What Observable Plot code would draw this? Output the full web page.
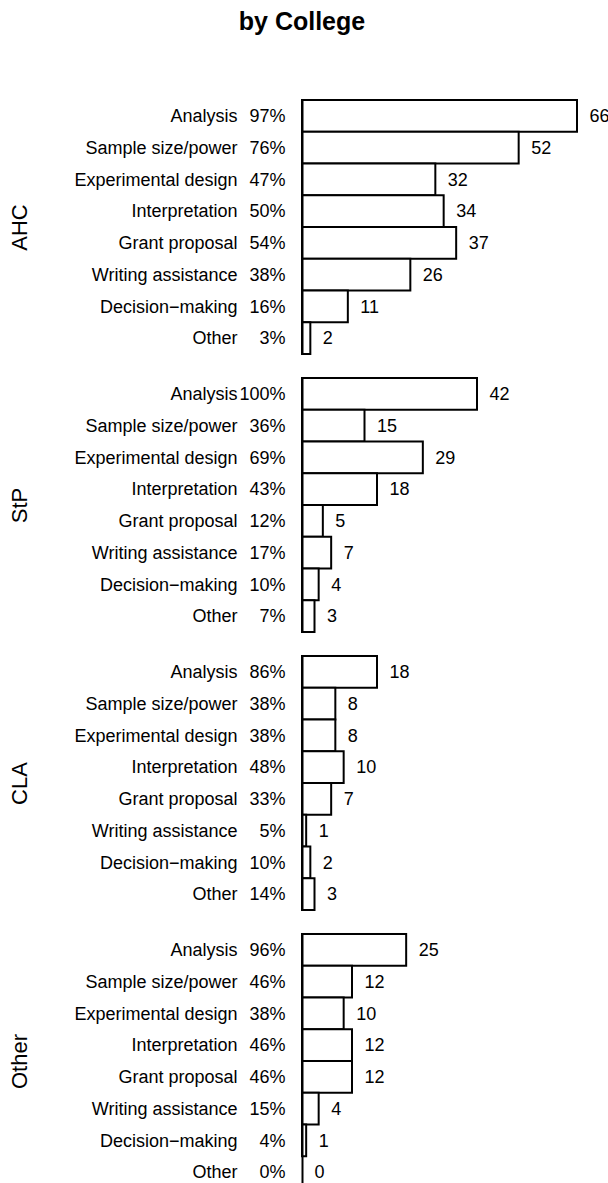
<!DOCTYPE html>
<html>
<head>
<meta charset="utf-8">
<script src="https://cdn.jsdelivr.net/npm/d3@7"></script>
<script src="https://cdn.jsdelivr.net/npm/@observablehq/plot@0.6"></script>
<style>
  html, body { margin: 0; padding: 0; background: #fff; overflow: hidden; }
  #title { height: 40px; width: 608px; text-align: center; font-family: "Liberation Sans", Arial, sans-serif; font-weight: bold; font-size: 25px; line-height: 42px; color: #000; padding-right: 4px; box-sizing: border-box; }
  #chart svg { display: block; }
</style>
</head>
<body>
<div id="title">by College</div>
<div id="chart"></div>
<script>
const colleges = ["AHC", "StP", "CLA", "Other"];
const categories = ["Analysis", "Sample size/power", "Experimental design", "Interpretation", "Grant proposal", "Writing assistance", "Decision\u2212making", "Other"];
const countsAHC = [66, 52, 32, 34, 37, 26, 11, 2];
const pctAHC = [97, 76, 47, 50, 54, 38, 16, 3];
const countsStP = [42, 15, 29, 18, 5, 7, 4, 3];
const pctStP = [100, 36, 69, 43, 12, 17, 10, 7];
const countsCLA = [18, 8, 8, 10, 7, 1, 2, 3];
const pctCLA = [86, 38, 38, 48, 33, 5, 10, 14];
const countsOther = [25, 12, 10, 12, 12, 4, 1, 0];
const pctOther = [96, 46, 38, 46, 46, 15, 4, 0];

const counts = {AHC: countsAHC, StP: countsStP, CLA: countsCLA, Other: countsOther};
const pcts = {AHC: pctAHC, StP: pctStP, CLA: pctCLA, Other: pctOther};
const data = colleges.flatMap(c => categories.map((cat, i) => ({college: c, category: cat, count: counts[c][i], pct: pcts[c][i]})));

const chart = Plot.plot({
  width: 608,
  height: 1148,
  marginTop: 60,
  marginBottom: 0,
  marginLeft: 302,
  marginRight: 6,
  style: {fontFamily: "'Liberation Sans', Arial, sans-serif", fontSize: "18px", color: "#000", background: "#fff"},
  x: {domain: [0, 72], axis: null},
  y: {domain: categories, padding: 0, round: false, tickSize: 0, tickPadding: 65, label: null},
  fy: {domain: colleges, paddingInner: 0.0863, paddingOuter: 0, round: false, axis: null, label: null},
  marks: [
    Plot.barX(data, {x: "count", y: "category", fy: "college", fill: "white", stroke: "black", strokeWidth: 2, inset: 0}),
    Plot.tickX(data, {x: 0, y: "category", fy: "college", stroke: "black", strokeWidth: 2}),
    Plot.text(data, {x: "count", y: "category", fy: "college", text: d => String(d.count), textAnchor: "start", dx: 12, fill: "black"}),
    Plot.text(data, {x: 0, y: "category", fy: "college", text: d => d.pct + "%", textAnchor: "end", dx: -17, fill: "black"}),
    Plot.text(colleges, {fy: d => d, text: d => d, frameAnchor: "left", textAnchor: "middle", rotate: -90, dx: -283, fontSize: 22, fill: "black"}),
    Plot.axisY({tickSize: 0, tickPadding: 65, label: null})
  ]
});
document.getElementById("chart").appendChild(chart);
</script>
</body>
</html>
